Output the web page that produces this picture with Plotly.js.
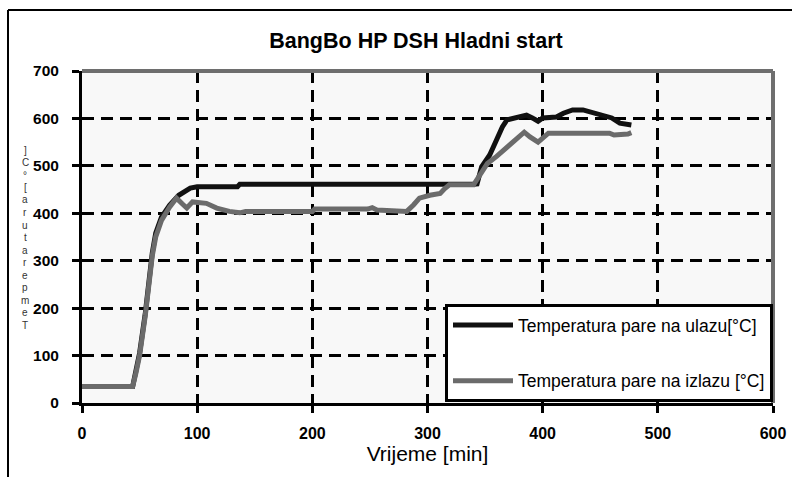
<!DOCTYPE html>
<html>
<head>
<meta charset="utf-8">
<script src="https://cdn.plot.ly/plotly-3.0.1.min.js"></script>
<style>html,body{margin:0;padding:0;background:#fff;}#chart{width:792px;height:477px;}</style>
</head>
<body>
<div id="chart"></div>
<script>
// ---- data ----
const chartTitle = "BangBo HP DSH Hladni start";
const xTitle = "Vrijeme [min]";
const yTitle = "Temperatura [°C]";
const seriesNames = ["Temperatura pare na ulazu[°C]", "Temperatura pare na izlazu [°C]"];
const xTicks = [0, 100, 200, 300, 400, 500, 600];
const yTicks = [0, 100, 200, 300, 400, 500, 600, 700];

const tIn = [0,44,47,50,55,58,61,64,69,76,84,94,100,135,137,340,343,347,354,360,365,369,377,386,391,396,400,412,418,426,435,444,452,460,467,472,477];
const vIn = [35,35,70,105,190,260,316,358,392,417,438,453,456,456,461,461,462,498,523,555,582,597,603,607,601,594,601,603,611,618,618,612,607,601,590,588,586];

const tOut = [0,44,47,50,55,58,61,64,69,76,82,87,91,96,108,117,128,137,142,200,202,248,252,256,282,288,293,302,311,315,319,340,346,352,360,366,372,378,384,389,396,405,420,440,458,462,468,474,477];
const vOut = [35,35,65,100,185,255,310,350,385,413,432,420,411,424,421,411,404,401,404,404,409,409,412,407,404,418,432,438,442,452,460,460,485,505,520,533,548,561,571,561,550,569,569,569,569,565,565,567,570];

// ---- layout geometry ----
const W = 792, H = 477;
const L = 82, R = 19, T = 71, B = 74;
const pw = W - L - R, ph = H - T - B;
const px2x = p => (p - L) / pw;
const py2y = p => (H - B - p) / ph;

const traces = [
  {x: tIn, y: vIn, name: seriesNames[0], legendgroup: "a", type: "scatter", mode: "lines",
   line: {color: "#111111", width: 5}},
  {x: tOut, y: vOut, name: seriesNames[1], legendgroup: "b", type: "scatter", mode: "lines",
   line: {color: "#6b6b6b", width: 5}}
];

// stacked vertical y title (characters bottom-to-top, as in the reference)
const chars = Array.from(yTitle).filter(c => c !== " ");
const annotations = [];
const yBottom = 325, yTop = 150;
const step = (yBottom - yTop) / (chars.length - 1);
chars.forEach((c, i) => {
  annotations.push({
    text: c, xref: "paper", yref: "paper", x: px2x(25), y: py2y(yBottom - i * step),
    showarrow: false, xanchor: "center", yanchor: "middle", borderpad: 0,
    font: {family: "Liberation Sans, Arial, sans-serif", size: 10, color: "#333"}
  });
});

const layout = {
  width: W, height: H,
  margin: {l: L, r: R, t: T, b: B, pad: 0},
  paper_bgcolor: "#ffffff",
  plot_bgcolor: "#f8f8f8",
  showlegend: true,
  title: {text: "<b>" + chartTitle + "</b>", xref: "container", yref: "container",
          x: 416 / W, y: 1 - 40 / H, xanchor: "center", yanchor: "middle",
          font: {family: "Liberation Sans, Arial, sans-serif", size: 21.5, color: "#000"}},
  xaxis: {
    range: [0, 600], tickvals: xTicks, ticktext: xTicks.map(String),
    showgrid: true, gridcolor: "#000", gridwidth: 3, griddash: "12px,7px",
    zeroline: false, showline: true, linecolor: "#000", linewidth: 3,
    ticks: "outside", ticklen: 7, tickwidth: 3, tickcolor: "#000",
    ticklabelstandoff: 7,
    tickfont: {family: "Liberation Sans, Arial, sans-serif", size: 16, color: "#000", weight: "bold"},
    title: {text: xTitle, standoff: 6,
            font: {family: "Liberation Sans, Arial, sans-serif", size: 21, color: "#000"}},
    fixedrange: true
  },
  yaxis: {
    range: [0, 700], tickvals: yTicks, ticktext: yTicks.map(String),
    showgrid: true, gridcolor: "#000", gridwidth: 3, griddash: "12px,7px",
    zeroline: false, showline: true, linecolor: "#000", linewidth: 3,
    ticks: "outside", ticklen: 7, tickwidth: 3, tickcolor: "#000",
    ticklabelstandoff: 10,
    tickfont: {family: "Liberation Sans, Arial, sans-serif", size: 15.5, color: "#000", weight: "bold"},
    fixedrange: true
  },
  legend: {
    x: px2x(445), y: py2y(304), xanchor: "left", yanchor: "top",
    bgcolor: "#ffffff", bordercolor: "#000", borderwidth: 3,
    tracegroupgap: 30, itemwidth: 60,
    font: {family: "Liberation Sans, Arial, sans-serif", size: 17.5, color: "#000"}
  },
  shapes: [
    // outer frame (top and left)
    {type: "line", xref: "paper", yref: "paper", x0: px2x(8), x1: px2x(800), y0: py2y(10), y1: py2y(10),
     line: {color: "#000", width: 2}},
    {type: "line", xref: "paper", yref: "paper", x0: px2x(8), x1: px2x(8), y0: py2y(10), y1: py2y(485),
     line: {color: "#000", width: 2}},
    // gray top and right plot border
    {type: "line", xref: "paper", yref: "paper", x0: 0, x1: 1, y0: 1, y1: 1,
     line: {color: "#6e6e6e", width: 4}},
    {type: "line", xref: "paper", yref: "paper", x0: 1, x1: 1, y0: 0, y1: 1,
     line: {color: "#6e6e6e", width: 4}}
  ],
  annotations: annotations
};

Plotly.newPlot("chart", traces, layout, {displayModeBar: false, staticPlot: true});
</script>
</body>
</html>
